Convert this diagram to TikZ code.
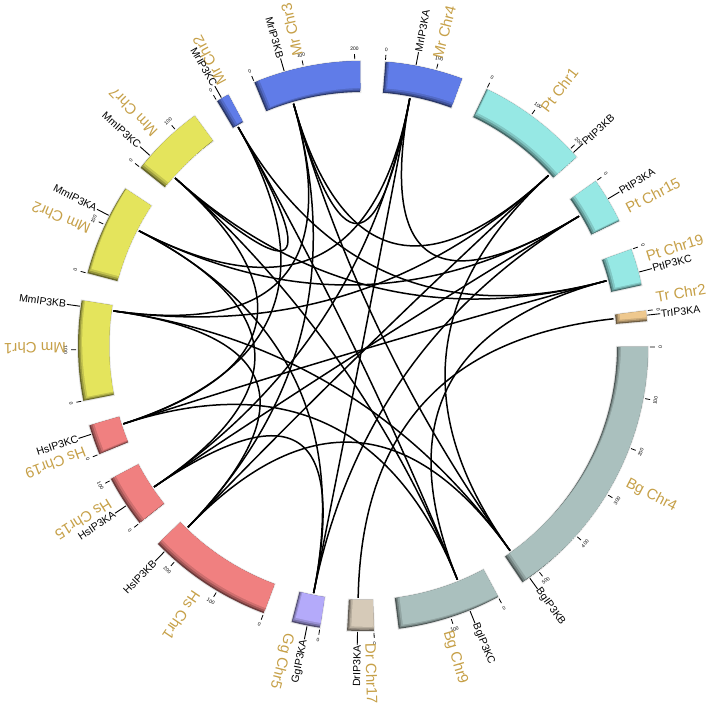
\documentclass[tikz,border=0pt]{standalone}
\usepackage{fontspec}
\setmainfont{Liberation Sans}
\usetikzlibrary{calc}
\definecolor{mrc}{RGB}{96,124,232}
\definecolor{ptc}{RGB}{150,232,228}
\definecolor{trc}{RGB}{238,200,142}
\definecolor{bgc}{RGB}{170,192,190}
\definecolor{drc}{RGB}{214,202,184}
\definecolor{ggc}{RGB}{180,170,250}
\definecolor{hsc}{RGB}{240,128,128}
\definecolor{mmc}{RGB}{228,228,92}
\definecolor{lblc}{RGB}{198,160,72}
\newcounter{tkc}
\newcommand{\bandpath}[2]{({90-(#1)}:254pt) arc[start angle={90-(#1)}, end angle={90-(#2)}, radius=254pt] -- ({90-(#2)}:285pt) arc[start angle={90-(#2)}, end angle={90-(#1)}, radius=285pt] -- cycle}
\newcommand{\chrom}[3]{%
  \draw[black!10, line width=2pt] \bandpath{#1}{#2};
  \begin{scope}
    \clip \bandpath{#1}{#2};
    \fill[#3!45!black] \bandpath{#1}{#2};
    \fill[#3!68!black, shift={(1.2pt,1.2pt)}] \bandpath{#1}{#2};
    \fill[#3!86!black, shift={(2.6pt,2.6pt)}] \bandpath{#1}{#2};
    \fill[#3, shift={(4.2pt,4.2pt)}] \bandpath{#1}{#2};
  \end{scope}}
\newcommand{\tk}[2]{%
  \stepcounter{tkc}%
  \pgfmathsetmacro{\tkang}{#1+#2*0.1037}%
  \pgfmathsetmacro{\tkrot}{(\tkang>90 && \tkang<270) ? 180-\tkang : -\tkang}%
  \draw[tickmark] ({90-\tkang}:287pt) -- ({90-\tkang}:292pt);
  \node[ticklbl, rotate=\tkrot] (tk\arabic{tkc}) at ({90-\tkang}:297.5pt) {#2};}
\newcommand{\gene}[3]{%
  \coordinate (#1) at ({90-(#2)}:252pt);
  \coordinate (#1o) at ({90-(#2)}:286pt);
  \ifdim #2pt<180pt
    \node[genelbl, rotate={90-(#2)}, anchor=west] (#1L) at ({90-(#2)}:299pt) {#3};
  \else
    \node[genelbl, rotate={270-(#2)}, anchor=east] (#1L) at ({90-(#2)}:299pt) {#3};
  \fi
  \draw[geneline] (#1o) -- (#1L);}
\newcommand{\clab}[3]{\node[chrlbl, rotate={90-(#2)}] (#1) at ({90-(#2)}:297pt) {#3};}
\newcommand{\lnk}[2]{\draw[link] (#1) .. controls ($(#1)!0.6667!(O)$) and ($(#2)!0.6667!(O)$) .. (#2);}
\begin{document}
\begin{tikzpicture}[x=1pt,y=1pt,
  link/.style={black, line width=1.5pt},
  tickmark/.style={black, line width=0.8pt},
  ticklbl/.style={font=\fontsize{5}{6}\selectfont, inner sep=0pt},
  geneline/.style={black, line width=0.9pt},
  genelbl/.style={font=\fontsize{10.5}{12}\selectfont, inner sep=0.6pt},
  chrlbl/.style={font=\fontsize{15}{17}\selectfont, text=lblc, anchor=west, inner sep=0pt}]
\useasboundingbox (-363,346) rectangle (345,-363);
\coordinate (O) at (0,0);
% chromosomes
\chrom{329.2}{331.8}{mrc}
\chrom{337.6}{359.4}{mrc}
\chrom{4.5}{20.3}{mrc}
\chrom{25.7}{48.5}{ptc}
\chrom{54.7}{64}{ptc}
\chrom{70.2}{77.7}{ptc}
\chrom{82.9}{85}{trc}
\chrom{90.2}{146}{bgc}
\chrom{151.7}{172.8}{bgc}
\chrom{177.8}{183.2}{drc}
\chrom{188.7}{194.5}{ggc}
\chrom{200.4}{226}{hsc}
\chrom{231.6}{242.2}{hsc}
\chrom{247.7}{253.8}{hsc}
\chrom{258.9}{279.2}{mmc}
\chrom{284.8}{303.5}{mmc}
\chrom{308.7}{323.8}{mmc}
% ticks
\tk{329.2}{0}
\tk{337.6}{0}\tk{337.6}{100}\tk{337.6}{200}
\tk{4.5}{0}\tk{4.5}{100}
\tk{25.7}{0}\tk{25.7}{100}\tk{25.7}{200}
\tk{54.7}{0}
\tk{70.2}{0}
\tk{82.9}{0}
\tk{90.2}{0}\tk{90.2}{100}\tk{90.2}{200}\tk{90.2}{300}\tk{90.2}{400}\tk{90.2}{500}
\tk{151.7}{0}\tk{151.7}{100}
\tk{177.8}{0}
\tk{188.7}{0}
\tk{200.4}{0}\tk{200.4}{100}\tk{200.4}{200}
\tk{231.6}{0}\tk{231.6}{100}
\tk{247.7}{0}
\tk{258.9}{0}\tk{258.9}{100}
\tk{284.8}{0}\tk{284.8}{100}
\tk{308.7}{0}\tk{308.7}{100}
% chromosome labels
\clab{cMrTwo}{331.7}{Mr Chr2}
\clab{cMrThree}{347.3}{Mr Chr3}
\clab{cMrFour}{14.5}{Mr Chr4}
\clab{cPtOne}{37.5}{Pt Chr1}
\clab{cPtFifteen}{62.5}{Pt Chr15}
\clab{cPtNineteen}{72.5}{Pt Chr19}
\clab{cTrTwo}{80.5}{Tr Chr2}
\clab{cBgFour}{117.4}{Bg Chr4}
\clab{cBgNine}{163.5}{Bg Chr9}
\clab{cDrSeventeen}{178.5}{Dr Chr17}
\clab{cGgFive}{194.5}{Gg Chr5}
\clab{cHsOne}{214}{Hs Chr1}
\clab{cHsFifteen}{238.2}{Hs Chr15}
\clab{cHsNineteen}{249.2}{Hs Chr19}
\clab{cMmOne}{269.6}{Mm Chr1}
\clab{cMmTwo}{293}{Mm Chr2}
\clab{cMmSeven}{315.5}{Mm Chr7}
% genes
\gene{MrC}{330.3}{MrIP3KC}
\gene{MrB}{344}{MrIP3KB}
\gene{MrA}{10.7}{MrIP3KA}
\gene{PtB}{47.4}{PtIP3KB}
\gene{PtA}{59}{PtIP3KA}
\gene{PtC}{75}{PtIP3KC}
\gene{TrA}{83.8}{TrIP3KA}
\gene{BgB}{144.3}{BgIP3KB}
\gene{BgC}{158}{BgIP3KC}
\gene{DrA}{181.1}{DrIP3KA}
\gene{GgA}{191.3}{GgIP3KA}
\gene{HsB}{224}{HsIP3KB}
\gene{HsA}{236}{HsIP3KA}
\gene{HsC}{252}{HsIP3KC}
\gene{MmB}{278}{MmIP3KB}
\gene{MmA}{297.2}{MmIP3KA}
\gene{MmC}{311.8}{MmIP3KC}
% links
\lnk{MrA}{PtA}\lnk{MrA}{GgA}\lnk{MrA}{HsA}\lnk{MrA}{MmA}
\lnk{PtA}{GgA}\lnk{PtA}{HsA}\lnk{PtA}{MmA}
\lnk{GgA}{HsA}\lnk{GgA}{MmA}\lnk{HsA}{MmA}
\lnk{TrA}{DrA}
\lnk{MrB}{PtB}\lnk{MrB}{BgB}\lnk{MrB}{HsB}\lnk{MrB}{MmB}
\lnk{PtB}{BgB}\lnk{PtB}{HsB}\lnk{PtB}{MmB}
\lnk{BgB}{HsB}\lnk{BgB}{MmB}\lnk{HsB}{MmB}
\lnk{MrC}{PtC}\lnk{MrC}{BgC}\lnk{MrC}{HsC}\lnk{MrC}{MmC}
\lnk{PtC}{BgC}\lnk{PtC}{HsC}\lnk{PtC}{MmC}
\lnk{BgC}{HsC}\lnk{BgC}{MmC}\lnk{HsC}{MmC}
\lnk{MrA}{MrB}
\end{tikzpicture}
\end{document}
